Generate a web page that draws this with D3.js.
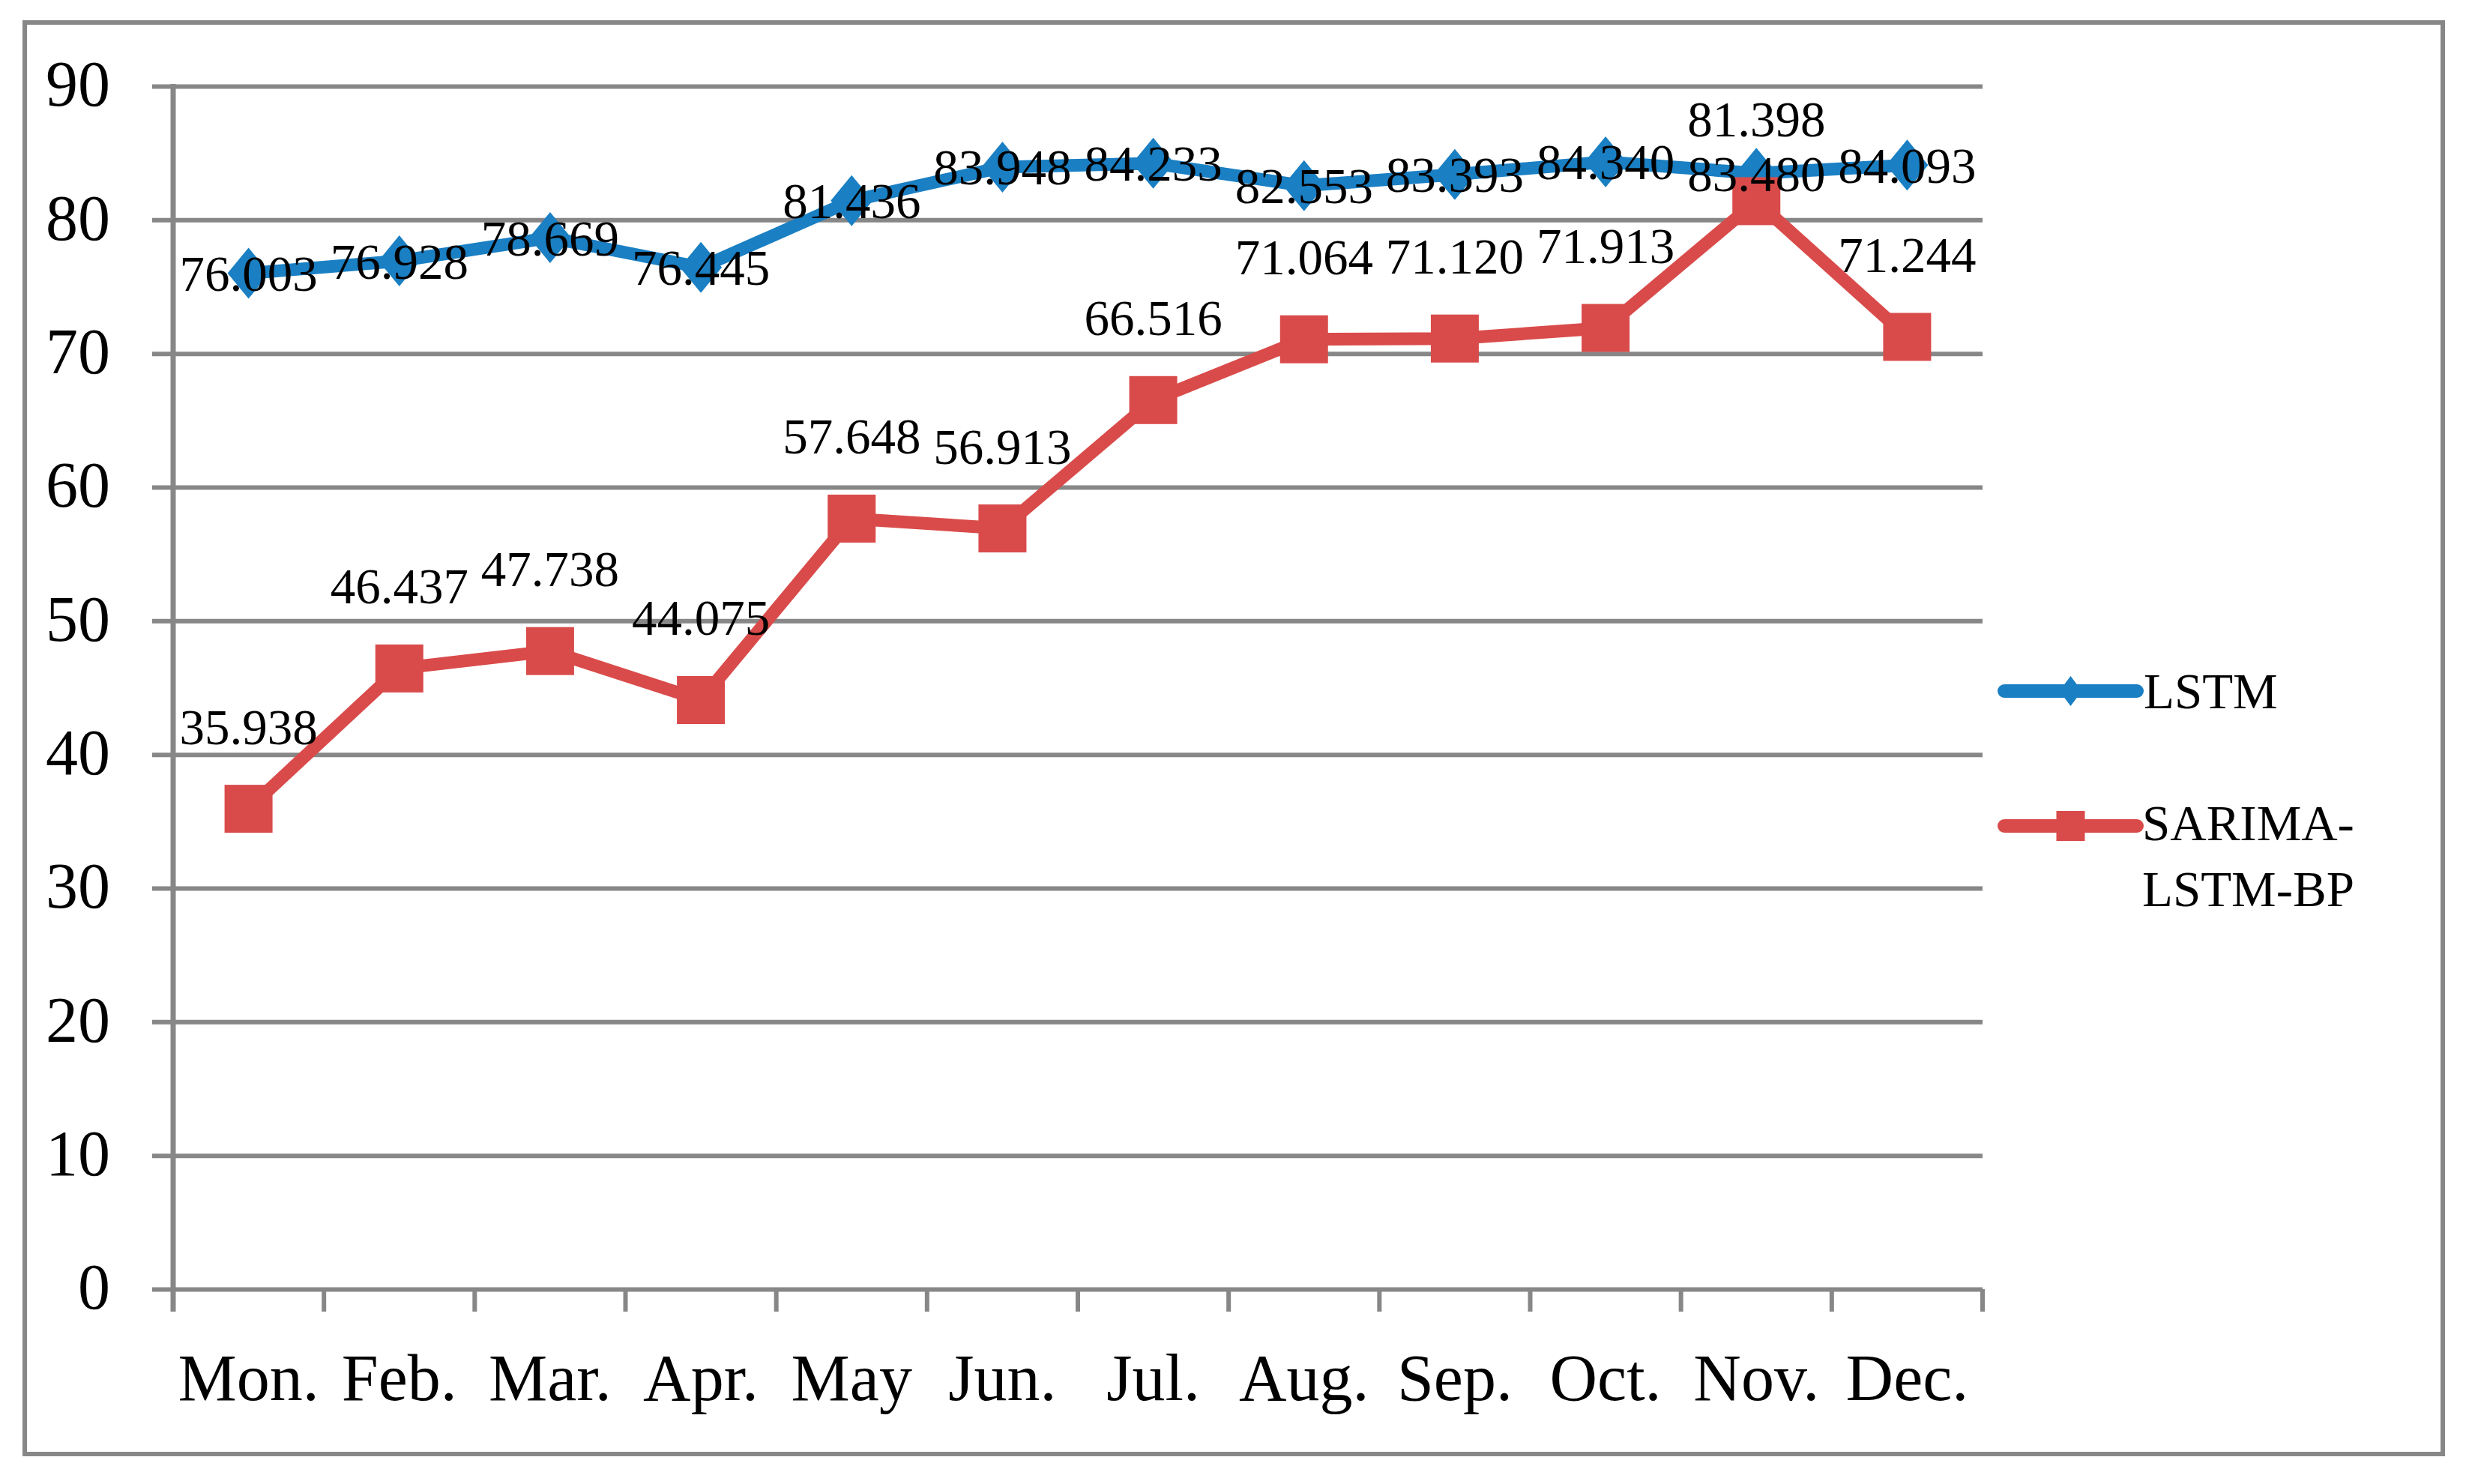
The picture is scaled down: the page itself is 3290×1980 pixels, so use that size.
<!DOCTYPE html>
<html>
<head>
<meta charset="utf-8">
<script src="https://cdn.jsdelivr.net/npm/d3@7"></script>
<style>
  body { margin: 0; background: #fff; }
  text { font-family: "Liberation Serif", "DejaVu Serif", serif; fill: #000; }
</style>
</head>
<body>
<div class="canvas"></div>
<script>
// data
const months = ["Mon.", "Feb.", "Mar.", "Apr.", "May", "Jun.", "Jul.", "Aug.", "Sep.", "Oct.", "Nov.", "Dec."];
const lstm = [76.003, 76.928, 78.669, 76.445, 81.436, 83.948, 84.233, 82.553, 83.393, 84.340, 83.480, 84.093];
const sarima = [35.938, 46.437, 47.738, 44.075, 57.648, 56.913, 66.516, 71.064, 71.120, 71.913, 81.398, 71.244];
const yTicks = [0, 10, 20, 30, 40, 50, 60, 70, 80, 90];
const seriesNames = ["LSTM", ["SARIMA-", "LSTM-BP"]];

// sizes
const w = 3290;
const h = 1980;
const plot = { left: 231, right: 2645, top: 115, bottom: 1720 };
const gridColor = "#878787";
const blue = "#1a7fc3";
const red = "#d94b4a";

const svg = d3.select(".canvas").append("svg").attr("width", w).attr("height", h);
svg.append("rect").attr("width", w).attr("height", h).attr("fill", "#fff");

// outer frame
svg.append("rect")
  .attr("x", 33).attr("y", 30)
  .attr("width", 3259 - 33).attr("height", 1940 - 30)
  .attr("fill", "none").attr("stroke", gridColor).attr("stroke-width", 6);

// scales
const x = d3.scaleBand().domain(months).range([plot.left, plot.right]).padding(0);
const y = d3.scaleLinear().domain([0, 90]).range([plot.bottom, plot.top]);
const cx = d => x(d) + x.bandwidth() / 2;

// y axis with gridlines
const yAxis = d3.axisLeft(y)
  .tickValues(yTicks)
  .tickSize(-(plot.right - plot.left + 28))
  .tickPadding(56);
const gy = svg.append("g")
  .attr("transform", `translate(${plot.left - 28}, 0)`)
  .call(yAxis);
gy.select(".domain").remove();
gy.selectAll(".tick line")
  .attr("stroke", gridColor).attr("stroke-width", 6)
  .attr("x1", 0);
gy.selectAll(".tick text")
  .attr("font-size", 86)
  .attr("font-family", "Liberation Serif")
  .attr("dy", "0.3em")
  .attr("fill", "#000");

// left axis line
svg.append("line")
  .attr("x1", plot.left).attr("x2", plot.left)
  .attr("y1", y(90) - 3).attr("y2", plot.bottom + 30)
  .attr("stroke", gridColor).attr("stroke-width", 7);

// x axis labels
const xAxis = d3.axisBottom(x).tickSize(0).tickPadding(86);
const gx = svg.append("g")
  .attr("transform", `translate(0, ${plot.bottom})`)
  .call(xAxis);
gx.select(".domain").remove();
gx.selectAll(".tick text")
  .attr("font-size", 88)
  .attr("font-family", "Liberation Serif")
  .attr("fill", "#000");

// x tick marks at category boundaries
const bounds = months.map(m => x(m)).concat([plot.right]);
svg.append("g").selectAll("line")
  .data(bounds)
  .enter()
  .append("line")
  .attr("x1", d => d).attr("x2", d => d)
  .attr("y1", plot.bottom).attr("y2", plot.bottom + 30)
  .attr("stroke", gridColor).attr("stroke-width", 6);

// series lines
const line = d3.line().x((d, i) => cx(months[i])).y(d => y(d));

svg.append("path")
  .datum(lstm)
  .attr("d", line)
  .attr("fill", "none").attr("stroke", blue).attr("stroke-width", 17)
  .attr("stroke-linejoin", "round");

const diamond = (mx, my, hw, hh) => `M${mx},${my - hh}L${mx + hw},${my}L${mx},${my + hh}L${mx - hw},${my}Z`;

svg.append("g").selectAll("path")
  .data(lstm)
  .enter()
  .append("path")
  .attr("d", (d, i) => diamond(cx(months[i]), y(d), 28, 34))
  .attr("fill", blue);

svg.append("path")
  .datum(sarima)
  .attr("d", line)
  .attr("fill", "none").attr("stroke", red).attr("stroke-width", 17)
  .attr("stroke-linejoin", "round");

svg.append("g").selectAll("rect")
  .data(sarima)
  .enter()
  .append("rect")
  .attr("x", (d, i) => cx(months[i]) - 32)
  .attr("y", d => y(d) - 32)
  .attr("width", 64).attr("height", 64)
  .attr("fill", red);

// data labels
svg.append("g").selectAll("text")
  .data(sarima)
  .enter()
  .append("text")
  .attr("x", (d, i) => cx(months[i]))
  .attr("y", d => y(d) - 110)
  .attr("dy", "0.35em")
  .attr("text-anchor", "middle")
  .attr("font-size", 67)
  .text(d => d.toFixed(3));

svg.append("g").selectAll("text")
  .data(lstm)
  .enter()
  .append("text")
  .attr("x", (d, i) => cx(months[i]))
  .attr("y", d => y(d))
  .attr("dy", "0.35em")
  .attr("text-anchor", "middle")
  .attr("font-size", 67)
  .text(d => d.toFixed(3));

// legend
const legend = svg.append("g");
const lx1 = 2674, lx2 = 2851, lmid = (lx1 + lx2) / 2;

legend.append("line")
  .attr("x1", lx1).attr("x2", lx2).attr("y1", 922).attr("y2", 922)
  .attr("stroke", blue).attr("stroke-width", 18).attr("stroke-linecap", "round");
legend.append("path")
  .attr("d", diamond(lmid, 922, 15, 20))
  .attr("fill", blue);
legend.append("text")
  .attr("x", 2860).attr("y", 922).attr("dy", "0.35em")
  .attr("font-size", 67)
  .text(seriesNames[0]);

legend.append("line")
  .attr("x1", lx1).attr("x2", lx2).attr("y1", 1102).attr("y2", 1102)
  .attr("stroke", red).attr("stroke-width", 18).attr("stroke-linecap", "round");
legend.append("rect")
  .attr("x", lmid - 19).attr("y", 1082).attr("width", 38).attr("height", 40)
  .attr("fill", red);
legend.append("text")
  .attr("x", 2858).attr("y", 1121)
  .attr("font-size", 67)
  .text(seriesNames[1][0]);
legend.append("text")
  .attr("x", 2858).attr("y", 1209)
  .attr("font-size", 67)
  .text(seriesNames[1][1]);
</script>
</body>
</html>
